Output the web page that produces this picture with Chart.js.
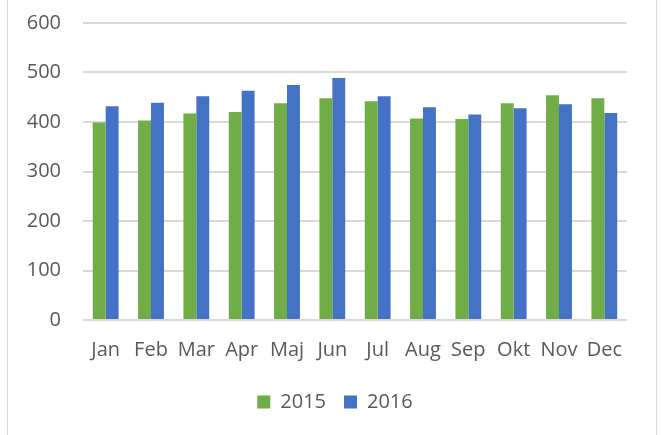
<!DOCTYPE html>
<html>
<head>
<meta charset="utf-8">
<script src="https://cdn.jsdelivr.net/npm/chart.js@4"></script>
<style>
  html, body { margin: 0; padding: 0; background: #fff; }
  #wrap { position: relative; width: 662px; height: 435px; }
  #frame { position: absolute; left: 7px; top: -2px; width: 648px; height: 440px;
           border-left: 1px solid #d9d9d9; border-right: 1px solid #d9d9d9; }
  canvas { position: absolute; left: 0; top: 0; }
</style>
</head>
<body>
<div id="wrap">
  <div id="frame"></div>
  <canvas id="chart" width="662" height="435"></canvas>
</div>
<script>
// data
const months = ["Jan", "Feb", "Mar", "Apr", "Maj", "Jun", "Jul", "Aug", "Sep", "Okt", "Nov", "Dec"];
const values2015 = [399, 403, 417, 420, 438, 448, 442, 407, 406, 438, 454, 448];
const values2016 = [432, 439, 452, 463, 475, 489, 452, 430, 415, 428, 436, 418];
const yTicks = [0, 100, 200, 300, 400, 500, 600];

const textColor = "#595959";
const gridColor = "#d9d9d9";
const font = { family: "'Open Sans'", size: 20 };

window.addEventListener("DOMContentLoaded", () => {
  const ctx = document.getElementById("chart");
  new Chart(ctx, {
    type: "bar",
    data: {
      labels: months,
      datasets: [
        { label: "2015", data: values2015, backgroundColor: "#70ad47" },
        { label: "2016", data: values2016, backgroundColor: "#4472c4" },
      ],
    },
    options: {
      responsive: false,
      animation: false,
      datasets: {
        bar: { categoryPercentage: 0.57, barPercentage: 1 },
      },
      layout: { padding: { left: 8, right: 0, top: 23, bottom: 13 } },
      scales: {
        x: {
          grid: { display: false },
          border: { display: false },
          ticks: { color: textColor, font: font, padding: 10, maxRotation: 0 },
          afterFit: (scale) => {
            scale.height = 54;
            scale.paddingLeft = 0;
            scale.paddingRight = 0;
          },
        },
        y: {
          min: 0,
          max: 600,
          afterBuildTicks: (scale) => { scale.ticks = yTicks.map((v) => ({ value: v })); },
          grid: { color: gridColor, lineWidth: 2, drawTicks: false },
          border: { display: false },
          ticks: { color: textColor, font: font, padding: 22 },
          afterFit: (scale) => {
            scale.width = 75;
            scale.paddingTop = 0;
            scale.paddingBottom = 0;
          },
        },
        // empty right-hand spacer so the legend stays centred on the canvas
        yRight: {
          position: "right",
          grid: { display: false },
          border: { display: false },
          ticks: { display: false },
          afterFit: (scale) => {
            scale.width = 35;
            scale.paddingTop = 0;
            scale.paddingBottom = 0;
          },
        },
      },
      plugins: {
        legend: {
          position: "bottom",
          labels: { color: textColor, font: font, boxWidth: 13, boxHeight: 13, padding: 18 },
        },
        tooltip: { enabled: false },
      },
    },
  });
});
</script>
</body>
</html>
